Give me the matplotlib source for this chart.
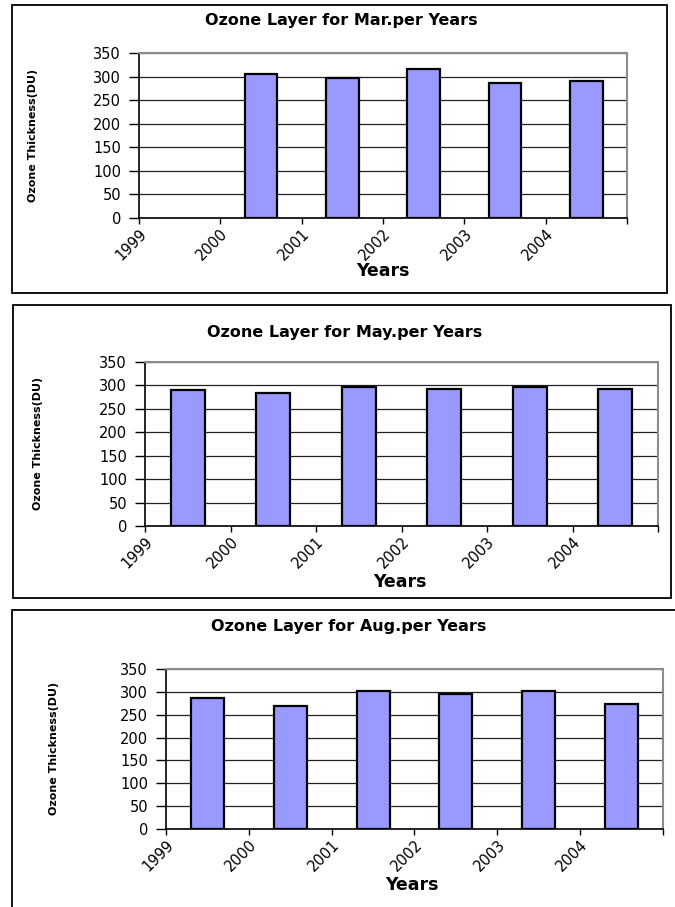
import numpy as np
import matplotlib
matplotlib.use("Agg")
import matplotlib.pyplot as plt
from matplotlib.patches import Rectangle

# Ozone thickness (DU) per year for three months
YEARS = ["1999", "2000", "2001", "2002", "2003", "2004"]
MAR = [np.nan, 305, 296, 316, 287, 290]
MAY = [291, 284, 297, 293, 297, 293]
AUG = [286, 269, 301, 296, 301, 274]

TITLES = [
    "Ozone Layer for Mar.per Years",
    "Ozone Layer for May.per Years",
    "Ozone Layer for Aug.per Years",
]

W, H = 675, 907
BAR_COLOR = "#9999FF"


def fx(px):
    return px / W


def fy(py):
    return 1 - py / H


def add_box(fig, left, top, right, bottom):
    fig.patches.append(Rectangle((fx(left), fy(bottom)), fx(right) - fx(left),
                                 fy(top) - fy(bottom), transform=fig.transFigure,
                                 fill=False, edgecolor="black", linewidth=1.3,
                                 clip_on=False))


def draw_panel(fig, values, title, box, plot, title_xy, xlab_xy, ylab_xy):
    add_box(fig, *box)
    left, top, right, bottom = plot
    ax = fig.add_axes([fx(left), fy(bottom), fx(right) - fx(left), fy(top) - fy(bottom)])

    x = np.arange(len(values)) + 0.5
    ax.bar(x, values, width=0.4, color=BAR_COLOR, edgecolor="black",
           linewidth=1.6, zorder=3)

    ax.set_xlim(0, len(values))
    ax.set_ylim(0, 350)
    ax.set_yticks(np.arange(0, 351, 50))
    ax.set_xticks(np.arange(len(values) + 1))
    ax.set_xticklabels(YEARS + [""], rotation=45, ha="right", va="top",
                       rotation_mode="anchor", fontsize=10.5)
    ax.tick_params(axis="y", direction="out", length=7, width=1, labelsize=10.5, pad=6)
    ax.tick_params(axis="x", direction="out", length=4, width=1, pad=2)

    ax.grid(axis="y", color="#222222", linewidth=0.9, zorder=0)
    for side in ("top", "right"):
        ax.spines[side].set_color("#8c8c8c")
        ax.spines[side].set_linewidth(1.5)
    for side in ("left", "bottom"):
        ax.spines[side].set_color("black")
        ax.spines[side].set_linewidth(1.2)

    fig.text(fx(title_xy[0]), fy(title_xy[1]), title, ha="center", va="center",
             fontsize=11.5, fontweight="bold")
    fig.text(fx(xlab_xy[0]), fy(xlab_xy[1]), "Years", ha="center", va="center",
             fontsize=12.5, fontweight="bold")
    fig.text(fx(ylab_xy[0]), fy(ylab_xy[1]), "Ozone Thickness(DU)", ha="center",
             va="center", rotation=90, fontsize=8, fontweight="bold")
    return ax


fig = plt.figure(figsize=(W / 100, H / 100), dpi=100)

draw_panel(fig, MAR, TITLES[0],
           box=(12, 5, 667, 293), plot=(139, 53, 627, 218),
           title_xy=(341, 20), xlab_xy=(383, 271), ylab_xy=(33, 135))
draw_panel(fig, MAY, TITLES[1],
           box=(13, 305, 671, 598), plot=(145, 362, 658, 526),
           title_xy=(345, 332), xlab_xy=(400, 582), ylab_xy=(38, 443))
draw_panel(fig, AUG, TITLES[2],
           box=(12, 610, 690, 920), plot=(166, 669, 663, 829),
           title_xy=(349, 627), xlab_xy=(412, 885), ylab_xy=(54, 748))

fig.savefig("out.png", dpi=100)
